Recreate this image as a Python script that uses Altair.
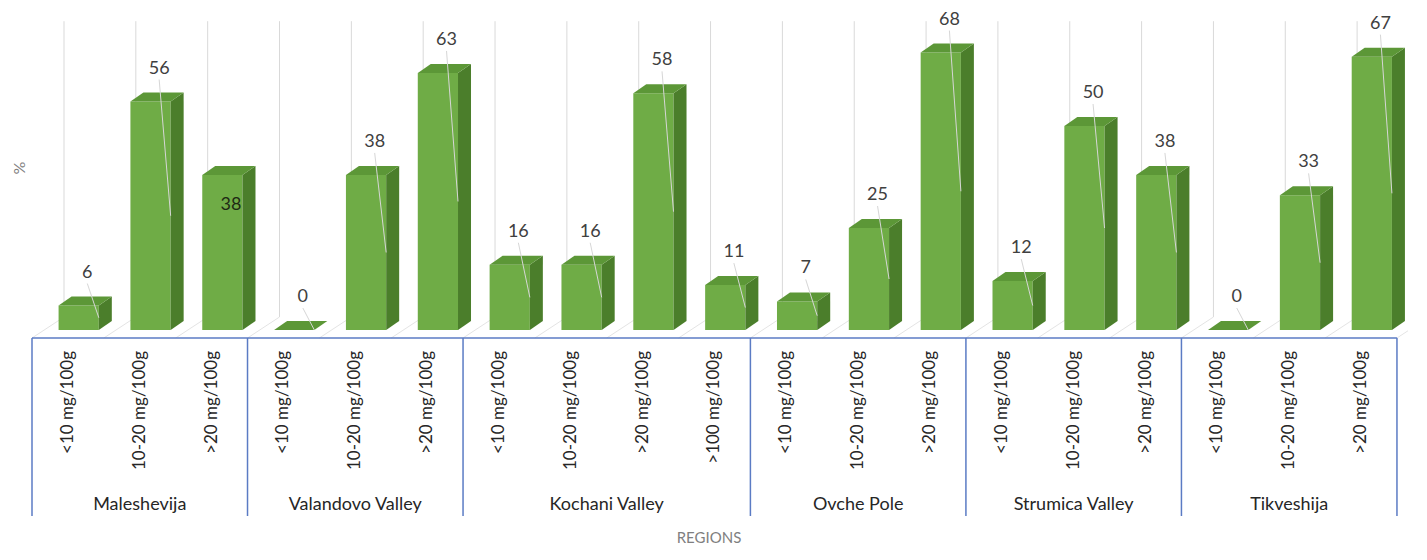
import altair as alt
import pandas as pd

# ---------------- data ----------------
regions = ["Maleshevija", "Valandovo Valley", "Kochani Valley",
           "Ovche Pole", "Strumica Valley", "Tikveshija"]
levels_maleshevija = ["<10 mg/100g", "10-20 mg/100g", ">20 mg/100g"]
levels_valandovo = ["<10 mg/100g", "10-20 mg/100g", ">20 mg/100g"]
levels_kochani = ["<10 mg/100g", "10-20 mg/100g", ">20 mg/100g", ">100 mg/100g"]
levels_ovche = ["<10 mg/100g", "10-20 mg/100g", ">20 mg/100g"]
levels_strumica = ["<10 mg/100g", "10-20 mg/100g", ">20 mg/100g"]
levels_tikveshija = ["<10 mg/100g", "10-20 mg/100g", ">20 mg/100g"]
values_maleshevija = [6, 56, 38]
values_valandovo = [0, 38, 63]
values_kochani = [16, 16, 58, 11]
values_ovche = [7, 25, 68]
values_strumica = [12, 50, 38]
values_tikveshija = [0, 33, 67]
y_title = "%"
x_title = "REGIONS"

all_levels = [levels_maleshevija, levels_valandovo, levels_kochani,
              levels_ovche, levels_strumica, levels_tikveshija]
all_values = [values_maleshevija, values_valandovo, values_kochani,
              values_ovche, values_strumica, values_tikveshija]

# ---------------- style / layout ----------------
W, H = 1400, 540
SLOT_PX = 71.84      # px per category slot
X_LEFT_PX = 24       # chart px of the first category boundary
UNIT_PX = 4.08       # px per percentage unit
BASE_PX = 322        # chart px of the bars' baseline
FRONT_L, FRONT_R = 0.37, 0.93   # front face inside the slot
DEPTH_X = 13 / SLOT_PX          # bar depth (slot units)
DEPTH_Y = 9 / UNIT_PX           # bar depth (value units)
WALL_X = 32 / SLOT_PX           # back wall shift
WALL_Y = 13 / UNIT_PX
FLOOR_FRONT_Y = -8 / UNIT_PX
AXIS_MAX = 72.5
LABEL_X = 0.77
LABEL_DY = -33
FONT = "Lato"
FRONT_C, SIDE_C, TOP_C = "#6fac46", "#4b7e2b", "#5c9737"
GRID_C = "#d9d9d9"
BOX_C = "#5b7bc4"
TEXT_C = "#404040"
inside_label_positions = [2]    # label drawn inside the bar (as in the source)

# ---------------- tables ----------------
rows = []
bounds = [0]
i = 0
for r, levs, vals in zip(regions, all_levels, all_values):
    for lev, v in zip(levs, vals):
        rows.append(dict(idx=i, region=r, level=lev, value=v,
                         inside=(i in inside_label_positions)))
        i += 1
    bounds.append(i)
df = pd.DataFrame(rows)
n = len(df)

df["fl"] = df["idx"] + FRONT_L
df["fr"] = df["idx"] + FRONT_R
df["xc"] = df["idx"] + 0.5
df["xl"] = df["idx"] + LABEL_X
df["zero"] = 0.0
df["lead_y1"] = df["value"] + (-LABEL_DY - 11) / UNIT_PX
df["lead_y2"] = df["value"] / 2

faces = []
for t in (0.0, 1.0):
    f = df[["idx", "value", "fl", "fr"]].copy()
    f["t"] = t
    f["sx"] = f["fr"] + t * DEPTH_X
    f["slo"] = t * DEPTH_Y
    f["shi"] = f["value"] + t * DEPTH_Y
    f["tx1"] = f["fl"] + t * DEPTH_X
    f["tx2"] = f["fr"] + t * DEPTH_X
    f["ty"] = f["value"] + t * DEPTH_Y
    faces.append(f)
faces = pd.concat(faces, ignore_index=True)

grid = pd.DataFrame({"b": list(range(n + 1))})
grid["gx"] = grid["b"] + WALL_X
grid["gy1"] = WALL_Y
grid["gy2"] = AXIS_MAX + WALL_Y
grid["fy"] = FLOOR_FRONT_Y

reg = pd.DataFrame({"region": regions,
                    "start": bounds[:-1], "end": bounds[1:]})
reg["mid"] = (reg["start"] + reg["end"]) / 2
bdf = pd.DataFrame({"b": bounds})

xs = alt.Scale(domain=[-X_LEFT_PX / SLOT_PX, (W - X_LEFT_PX) / SLOT_PX],
               nice=False, zero=False)
ys = alt.Scale(domain=[-(H - BASE_PX) / UNIT_PX, BASE_PX / UNIT_PX],
               nice=False, zero=False)


def X(f, **kw):
    return alt.X(f, type="quantitative", scale=xs, axis=None, **kw)


def Y(f, **kw):
    return alt.Y(f, type="quantitative", scale=ys, axis=None, **kw)


gridlines = alt.Chart(grid).mark_rule(color=GRID_C, strokeWidth=1).encode(
    x=X("gx"), y=Y("gy1"), y2="gy2")
floorlines = alt.Chart(grid).mark_rule(color="#e4e4e4", strokeWidth=1).encode(
    x=X("b"), y=Y("fy"), x2="gx", y2="gy1")

front = alt.Chart(df).mark_rect(color=FRONT_C).encode(
    x=X("fl"), x2="fr", y=Y("zero"), y2="value")
side = alt.Chart(faces).mark_area(color=SIDE_C).encode(
    x=X("sx"), y=Y("slo", stack=None), y2="shi", detail="idx:N")
top = alt.Chart(faces).mark_area(color=TOP_C, orient="horizontal").encode(
    y=Y("ty"), x=X("tx1", stack=None), x2="tx2", detail="idx:N")

leaders = alt.Chart(df).transform_filter("!datum.inside").mark_rule(
    color="#d6d6d6", strokeWidth=1).encode(
    x=X("xl"), y=Y("lead_y1"), x2="fr", y2="lead_y2")

labels = alt.Chart(df).transform_filter("!datum.inside").mark_text(
    font=FONT, fontSize=18, color=TEXT_C, dy=LABEL_DY).encode(
    x=X("xl"), y=Y("value"), text="value:Q")
labels_in = alt.Chart(df).transform_filter("datum.inside").mark_text(
    font=FONT, fontSize=18, color="#1e2a14", dy=30).encode(
    x=X("xl"), y=Y("value"), text="value:Q")

box_top = alt.Chart(bdf).transform_aggregate(
    b0="min(b)", b1="max(b)").mark_rule(color=BOX_C, strokeWidth=1.5).encode(
    x=X("b0"), x2="b1", y=alt.value(330))
box_v = alt.Chart(bdf).mark_rule(color=BOX_C, strokeWidth=1.5).encode(
    x=X("b"), y=alt.value(330), y2=alt.value(508))

sub_labels = alt.Chart(df).mark_text(
    font=FONT, fontSize=17, color="#262626", angle=270, align="right",
    baseline="middle").encode(
    x=X("xc"), y=alt.value(343), text="level:N")
region_labels = alt.Chart(reg).mark_text(
    font=FONT, fontSize=18, color="#262626", baseline="middle").encode(
    x=X("mid"), y=alt.value(497), text="region:N")

ytitle = alt.Chart(pd.DataFrame({"t": [y_title]})).mark_text(
    font=FONT, fontSize=16, color="#7f7f7f", angle=270, baseline="middle").encode(
    x=alt.value(12), y=alt.value(160), text="t:N")
xtitle = alt.Chart(pd.DataFrame({"t": [x_title]})).mark_text(
    font=FONT, fontSize=15, color="#7f7f7f", baseline="middle").encode(
    x=alt.value(701), y=alt.value(530), text="t:N")

chart = alt.layer(
    gridlines, floorlines, front, side, top, leaders, labels, labels_in,
    box_top, box_v, sub_labels, region_labels, ytitle, xtitle
).properties(
    width=W, height=H, padding=0,
    autosize=alt.AutoSizeParams(type="none")
).configure_view(stroke=None)

chart.save("out.html", embed_options={"renderer": "svg", "actions": False})
